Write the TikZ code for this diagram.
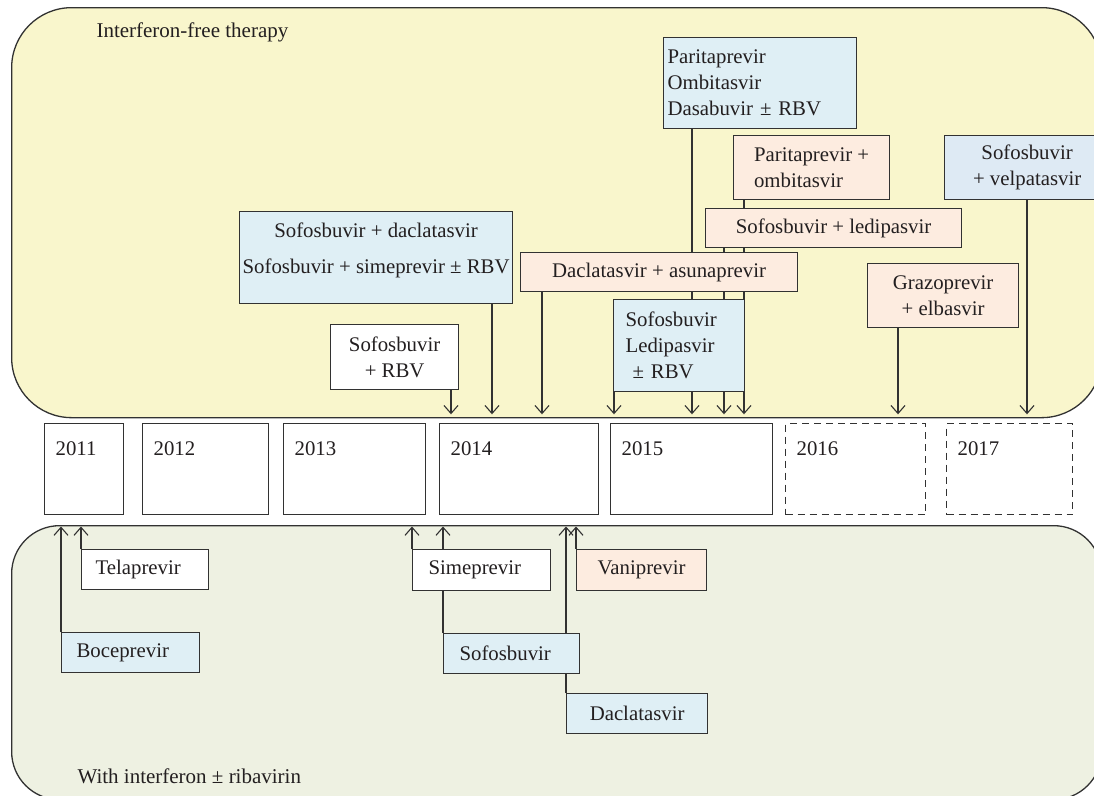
\documentclass[tikz,border=0pt]{standalone}
\usepackage{fontspec}
\setmainfont{Liberation Serif}
\usepackage{tikz}
\usetikzlibrary{arrows.meta,backgrounds}
\definecolor{ifreefill}{RGB}{249,246,204}
\definecolor{withfill}{RGB}{238,241,226}
\definecolor{bluefill}{RGB}{223,239,245}
\definecolor{velpfill}{RGB}{222,234,244}
\definecolor{peachfill}{RGB}{253,236,224}
\definecolor{linec}{RGB}{50,50,50}
\definecolor{textc}{RGB}{35,31,32}

\begin{document}
\begin{tikzpicture}[x=1pt,y=-1pt,
  every node/.style={text=textc,font=\fontsize{20.8}{26}\selectfont},
  drug/.style={draw=linec,line width=1.2pt,anchor=north west,inner sep=2pt},
  yearbox/.style={draw=linec,line width=1.2pt,fill=white,anchor=north west,align=left,
    inner xsep=11pt,inner ysep=0pt,text height=32pt,text depth=59pt},
  dsh/.style={dash pattern=on 7pt off 5pt},
  region/.style={draw=linec,line width=1.3pt,anchor=north west,inner sep=0pt,rounded corners=#1},
  arr/.style={draw=linec,line width=1.1pt,-{Straight Barb[length=8pt,width=14pt]}},
  down/.style={arr,shorten >=4pt},
  up/.style={arr,shorten >=1.5pt}]
  \useasboundingbox (0,0) rectangle (1094,795);

  \foreach \yr/\x/\w/\st in {2011/44/79/solid,2012/142/126/solid,2013/283/142/solid,
      2014/439/159/solid,2015/610/162/solid,2016/785/140/dsh,2017/946/126/dsh}{
    \pgfmathsetmacro\tw{\w-22}
    \node[yearbox,\st,text width=\tw pt] (y\yr) at (\x,423) {\yr};
  }

  \node[drug,fill=bluefill,align=left,text width=185pt,inner xsep=4pt,minimum height=91pt] (pod) at (663,37) {Paritaprevir\\Ombitasvir\\Dasabuvir ± RBV};
  \node[drug,fill=peachfill,align=left,minimum width=156pt,minimum height=64pt] (paromb) at (733,135) {Paritaprevir +\\ombitasvir};
  \node[drug,fill=velpfill,align=center,minimum width=165pt,minimum height=64pt] (sofvel) at (944,135) {Sofosbuvir\\+ velpatasvir};
  \node[drug,fill=peachfill,minimum width=256pt,minimum height=39pt] (sofled) at (705,208) {Sofosbuvir + ledipasvir};
  \node[drug,fill=bluefill,align=center,text depth=18pt,minimum width=273pt,minimum height=92pt] (sofdac) at (239,211) {Sofosbuvir + daclatasvir\\[10pt]Sofosbuvir + simeprevir ± RBV};
  \node[drug,fill=peachfill,minimum width=277pt,minimum height=39pt] (dacasu) at (520,252) {Daclatasvir + asunaprevir};
  \node[drug,fill=peachfill,align=center,minimum width=151pt,minimum height=64pt] (grazo) at (867,263) {Grazoprevir\\+ elbasvir};
  \node[drug,fill=white,align=center,minimum width=128pt,minimum height=65pt] (sofrbv) at (330,324) {Sofosbuvir\\+ RBV};
  \node[drug,fill=bluefill,align=left,text width=107pt,inner xsep=12pt,minimum height=92pt] (sofldv) at (613,299) {Sofosbuvir\\Ledipasvir\\\hspace*{7pt}± RBV};

  \node[drug,fill=white,align=left,text width=99pt,inner xsep=14pt,minimum height=40pt] (telap) at (81,549) {Telaprevir};
  \node[drug,fill=bluefill,align=left,text width=108pt,inner xsep=15pt,minimum height=40pt] (bocep) at (61,632) {Boceprevir};
  \node[drug,fill=white,align=left,text width=106pt,inner xsep=16pt,minimum height=41pt] (simep) at (412,549) {Simeprevir};
  \node[drug,fill=peachfill,minimum width=130pt,minimum height=41pt] (vanip) at (576,549) {Vaniprevir};
  \node[drug,fill=bluefill,align=left,text width=104pt,inner xsep=16pt,minimum height=40pt] (sofos) at (443,633) {Sofosbuvir};
  \node[drug,fill=bluefill,minimum width=141pt,minimum height=40pt] (daclat) at (566,693) {Daclatasvir};

  \node[anchor=west,font=\fontsize{21}{26}\selectfont] (iftitle) at (93,32) {Interferon-free therapy};
  \node[anchor=west,font=\fontsize{21}{26}\selectfont] (wititle) at (74,776) {With interferon ± ribavirin};

  \begin{scope}[on background layer]
    \node[region=60pt,fill=ifreefill,minimum width=1090pt,minimum height=410pt] (ifree) at (11,7) {};
    \node[region=48pt,fill=withfill,minimum width=1090pt,minimum height=274pt] (withif) at (11,525) {};
    \foreach \n/\x in {sofrbv/451,sofdac/492,dacasu/542,sofldv/614,pod/692,sofled/724,paromb/744,grazo/898,sofvel/1027}
      \draw[down] (\n.south -| \x,0) -- (\x,0 |- ifree.south);
    \foreach \n in {bocep,telap,simep,sofos,daclat,vanip}
      \draw[up] (\n.north west) -- (\n.north west |- withif.north);
  \end{scope}
\end{tikzpicture}
\end{document}
